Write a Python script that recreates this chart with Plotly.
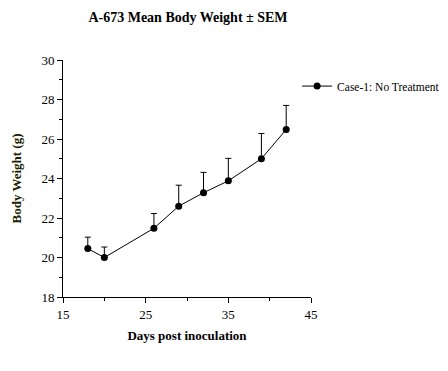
import plotly.graph_objects as go

days = [18, 20, 26, 29, 32, 35, 39, 42]
weight = [20.45, 20.0, 21.48, 22.6, 23.28, 23.88, 25.0, 26.48]
sem = [0.58, 0.53, 0.75, 1.06, 1.03, 1.14, 1.28, 1.22]
series_name = "Case-1: No Treatment"

FONT = "Liberation Serif, Times New Roman, serif"

fig = go.Figure()
fig.add_trace(go.Scatter(
    x=days, y=weight, mode="lines+markers", name=series_name,
    line=dict(color="black", width=1),
    marker=dict(color="black", size=7, symbol="circle"),
    error_y=dict(type="data", array=sem, arrayminus=[0] * len(sem), symmetric=False,
                 color="black", thickness=1, width=3),
    showlegend=True,
))

# page body adds an 8px offset, so the figure is 8px smaller and shifted
fig.update_layout(
    width=440, height=363,
    margin=dict(l=55, r=137, t=52, b=74, autoexpand=False),
    paper_bgcolor="white", plot_bgcolor="white",
    font=dict(family=FONT, color="black", size=13),
    title=dict(text="<b>A-673 Mean Body Weight ± SEM</b>", x=180 / 440, xanchor="center",
               y=1 - 9 / 363, yanchor="middle", font=dict(size=14, family=FONT)),
    legend=dict(x=0.944, y=0.89, xanchor="left", yanchor="middle", itemwidth=30,
                font=dict(size=11.5, family=FONT), bgcolor="rgba(0,0,0,0)"),
    showlegend=True,
)
fig.update_xaxes(
    range=[15, 45], tick0=15, dtick=10, showgrid=False, zeroline=False,
    showline=True, linecolor="black", linewidth=1, ticks="outside", ticklen=5,
    tickcolor="black", tickfont=dict(size=13, family=FONT), automargin=False,
    minor=dict(dtick=5, tick0=15, ticks="outside", ticklen=3, tickcolor="black", showgrid=False),
    title=dict(text="<b>Days post inoculation</b>", font=dict(size=13, family=FONT), standoff=10),
)
fig.update_yaxes(
    range=[18, 30], tick0=18, dtick=2, showgrid=False, zeroline=False,
    showline=True, linecolor="black", linewidth=1, ticks="outside", ticklen=5,
    tickcolor="black", tickfont=dict(size=13, family=FONT), automargin=False,
    minor=dict(dtick=1, tick0=18, ticks="outside", ticklen=3, tickcolor="black", showgrid=False),
    title=dict(text="<b>Body Weight (g)</b>", font=dict(size=13, family=FONT, color="#1a2200"), standoff=16),
)

fig.write_html("out.html")
